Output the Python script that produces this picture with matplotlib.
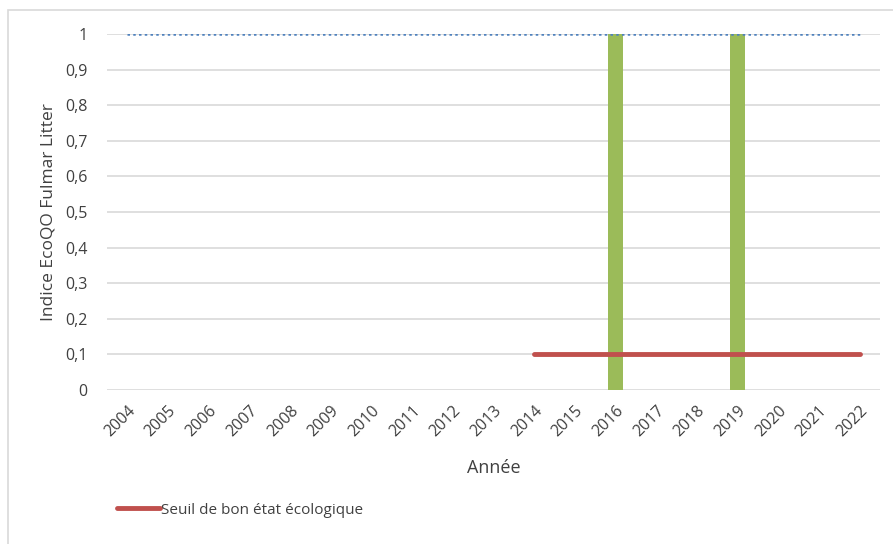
import matplotlib.pyplot as plt
from matplotlib.patches import Rectangle
import numpy as np

years = [str(y) for y in range(2004, 2023)]
indice = [None]*12 + [1, None, None, 1, None, None, None]  # bars at 2016, 2019
target = [1.0]*19
seuil_years = years[10:]
seuil = [0.1]*len(seuil_years)

plt.rcParams['font.family'] = ['Open Sans', 'DejaVu Sans']
txt = '#404040'

fig = plt.figure(figsize=(8.93, 5.44), dpi=100)
ax = fig.add_axes([107/893, 1-390/544, (880-107)/893, (390-34)/544])

x = np.arange(len(years))
bar_vals = [v if v is not None else 0 for v in indice]
ax.bar(x, bar_vals, width=0.38, color='#9BBB59', zorder=3)
ax.plot(x, target, color='#4F81BD', linestyle=(0, (1, 1.3)), linewidth=1.8, zorder=4)
xs = [years.index(y) for y in seuil_years]
ax.plot(xs, seuil, color='#C0504D', linewidth=3.5, solid_capstyle='round', zorder=5,
        label='Seuil de bon état écologique')

ax.set_ylim(0, 1)
ax.set_xlim(-0.5, len(years)-0.5)
yt = np.round(np.arange(0, 1.01, 0.1), 1)
ax.set_yticks(yt)
ax.set_yticklabels(['0'] + [f'0,{i}' for i in range(1, 10)] + ['1'], color=txt, fontsize=11.5)
ax.set_xticks(x)
ax.set_xticklabels(years, rotation=45, ha='right', rotation_mode='anchor', color=txt, fontsize=11.5)
ax.tick_params(length=0)
ax.tick_params(axis='y', pad=14)
ax.tick_params(axis='x', pad=9)
ax.grid(axis='y', color='#D9D9D9', linewidth=1.2, zorder=0)
for s in ax.spines.values():
    s.set_visible(False)

ax.set_ylabel('Indice EcoQO Fulmar Litter', fontsize=12.5, color=txt, labelpad=6)
ax.set_xlabel('Année', fontsize=13, color=txt, labelpad=14)

leg = fig.legend(loc='center left', bbox_to_anchor=(103/893, 1-510/544), frameon=False,
                 fontsize=11, handlelength=2.8, handletextpad=0.1)
for t in leg.get_texts():
    t.set_color(txt)

fig.patches.append(Rectangle((8/893, -0.2), 1.2, 1.2-10/544, transform=fig.transFigure,
                             fill=False, edgecolor='#D9D9D9', linewidth=1.2))

fig.savefig('out.png', dpi=100)
